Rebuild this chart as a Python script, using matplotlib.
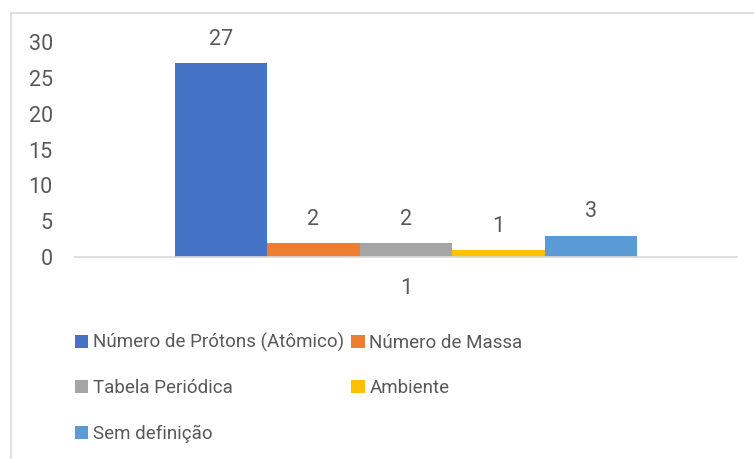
import matplotlib
matplotlib.use("Agg")
import matplotlib.pyplot as plt
from matplotlib.patches import Patch, Rectangle

categories = ["1"]
series_names = ["Número de Prótons (Atômico)", "Número de Massa", "Tabela Periódica",
                "Ambiente", "Sem definição"]
values = [27, 2, 2, 1, 3]
colors = ["#4472C4", "#ED7D31", "#A5A5A5", "#FFC000", "#5B9BD5"]
yticks = [0, 5, 10, 15, 20, 25, 30]

W, H = 754, 459
plt.rcParams['font.family'] = ['Roboto', 'DejaVu Sans']
fig = plt.figure(figsize=(W / 100, H / 100), dpi=100)
fs = 15.5
fs_leg = 13.5

# outer chart border (only left and top visible)
fig.add_artist(Rectangle((11 / W, -0.1), 1.2, 1.1 - 13 / H, transform=fig.transFigure,
                         fill=False, edgecolor="#D9D9D9", linewidth=1.2))

ax = fig.add_axes([75 / W, 1 - 257 / H, (737 - 75) / W, (257 - 42) / H])
txt = "#595959"

n = len(values)
bw = 92.5 / (737 - 75)  # in category units (category width = 1)
x0 = 0.5 - n * bw / 2
for i, (v, c, name) in enumerate(zip(values, colors, series_names)):
    xc = x0 + (i + 0.5) * bw
    ax.bar(xc, v, width=bw, color=c, label=name)
    ax.annotate(str(v), (xc, v), xytext=(0, 17), textcoords="offset points",
                ha="center", va="center", fontsize=fs, color=txt)

ax.set_xlim(0, 1)
ax.set_ylim(0, 30)
ax.set_yticks(yticks)
ax.set_xticks([0.5])
ax.set_xticklabels(categories)
ax.tick_params(axis="y", length=0, pad=16, labelsize=fs, labelcolor=txt)
ax.tick_params(axis="x", length=0, pad=15, labelsize=fs, labelcolor=txt)
for s in ["top", "right", "left"]:
    ax.spines[s].set_visible(False)
ax.spines["bottom"].set_color("#D9D9D9")
ax.spines["bottom"].set_linewidth(1.2)

handles = [Patch(facecolor=c, edgecolor="none") for c in colors]
order = [0, 2, 4, 1, 3]
leg = fig.legend([handles[i] for i in order], [series_names[i] for i in order],
                 ncol=2, loc="upper left", bbox_to_anchor=(75 / W, 1 - 333 / H),
                 frameon=False, fontsize=fs_leg, labelcolor=txt,
                 handlelength=0.7, handleheight=0.7, handletextpad=0.25,
                 columnspacing=0.4, labelspacing=1.45, borderaxespad=0, borderpad=0)

fig.savefig("out.png", dpi=100)
